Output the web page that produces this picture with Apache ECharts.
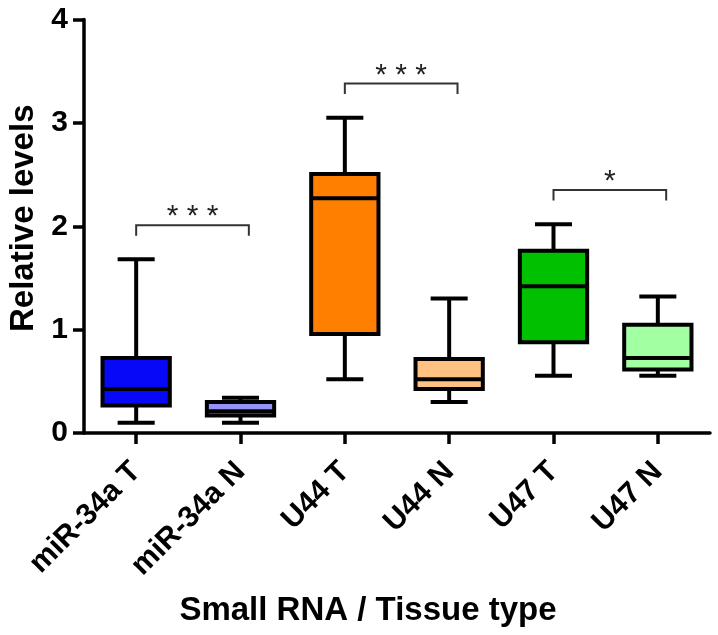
<!DOCTYPE html>
<html>
<head>
<meta charset="utf-8">
<script src="https://cdn.jsdelivr.net/npm/echarts@6/dist/echarts.min.js"></script>
<style>
html,body{margin:0;padding:0;background:#fff;}
#chart{width:718px;height:635px;}
</style>
</head>
<body>
<div id="chart"></div>
<script>
// ---- data ----
const categories = ['miR-34a T', 'miR-34a N', 'U44 T', 'U44 N', 'U47 T', 'U47 N'];
const whiskerLow  = [0.10, 0.10, 0.52, 0.30, 0.555, 0.555];
const quartile1   = [0.265, 0.17, 0.957, 0.425, 0.877, 0.615];
const medianVals  = [0.425, 0.21, 2.27, 0.52, 1.42, 0.725];
const quartile3   = [0.725, 0.30, 2.505, 0.716, 1.763, 1.047];
const whiskerHigh = [1.68, 0.34, 3.05, 1.30, 2.02, 1.32];
const yTicks = [0, 1, 2, 3, 4];
// significance brackets: left category, right category, bracket level, label
const bracketLeft  = [0, 2, 4];
const bracketRight = [1, 3, 5];
const bracketLevel = [2.01, 3.38, 2.35];
const bracketLabel = ['* * *', '* * *', '*'];

// ---- styles ----
const boxColors = ['#0808F8', '#9494F8', '#FF8000', '#FFC283', '#00C000', '#A2FFA2'];
const FONT = '"Liberation Sans", Arial, Helvetica, sans-serif';

const chart = echarts.init(document.getElementById('chart'), null, {renderer: 'canvas'});

const boxData = categories.map((c, i) => [i, whiskerLow[i], quartile1[i], medianVals[i], quartile3[i], whiskerHigh[i]]);
const bracketData = bracketLeft.map((l, i) => [l, bracketRight[i], bracketLevel[i], i]);

function renderBox(params, api) {
  const idx = api.value(0);
  const band = api.size([1, 0])[0];
  const cx = api.coord([idx, 0])[0];
  const yLo = api.coord([idx, api.value(1)])[1];
  const yQ1 = api.coord([idx, api.value(2)])[1];
  const yMed = api.coord([idx, api.value(3)])[1];
  const yQ3 = api.coord([idx, api.value(4)])[1];
  const yHi = api.coord([idx, api.value(5)])[1];
  const bw = band * 0.645;
  const cw = band * 0.355;
  const lineStyle = {stroke: '#000', lineWidth: 4, fill: null};
  return {
    type: 'group',
    children: [
      {type: 'line', shape: {x1: cx, y1: yHi, x2: cx, y2: yQ3}, style: lineStyle},
      {type: 'line', shape: {x1: cx, y1: yLo, x2: cx, y2: yQ1}, style: lineStyle},
      {type: 'line', shape: {x1: cx - cw / 2, y1: yHi, x2: cx + cw / 2, y2: yHi}, style: lineStyle},
      {type: 'line', shape: {x1: cx - cw / 2, y1: yLo, x2: cx + cw / 2, y2: yLo}, style: lineStyle},
      {type: 'rect', shape: {x: cx - bw / 2, y: yQ3, width: bw, height: yQ1 - yQ3},
        style: {fill: boxColors[params.dataIndex], stroke: '#000', lineWidth: 4}},
      {type: 'line', shape: {x1: cx - bw / 2, y1: yMed, x2: cx + bw / 2, y2: yMed}, style: lineStyle}
    ]
  };
}

function renderBracket(params, api) {
  const band = api.size([1, 0])[0];
  const level = api.value(2);
  const pL = api.coord([api.value(0), level]);
  const pR = api.coord([api.value(1), level]);
  const xL = pL[0];
  const xR = pR[0] + band * 0.08;
  const y = pL[1];
  const leg = 10.5;
  const i = api.value(3);
  return {
    type: 'group',
    children: [
      {type: 'polyline', shape: {points: [[xL, y + leg], [xL, y], [xR, y], [xR, y + leg]]},
        style: {stroke: '#333', lineWidth: 2, fill: null}},
      {type: 'text', x: (xL + xR) / 2, y: y + 7,
        style: {text: bracketLabel[i], textAlign: 'center', textVerticalAlign: 'bottom',
          font: 'normal 30px ' + FONT, fill: '#222'}}
    ]
  };
}

const option = {
  animation: false,
  backgroundColor: '#fff',
  grid: {left: 84, right: 8, top: 19.5, bottom: 202, outerBoundsMode: 'none', containLabel: false},
  xAxis: {
    type: 'category',
    data: categories,
    boundaryGap: true,
    axisLine: {show: true, lineStyle: {color: '#000', width: 3.5}},
    axisTick: {show: true, alignWithLabel: true, length: 11, lineStyle: {color: '#000', width: 3.5}},
    axisLabel: {interval: 0, rotate: 45, margin: 34, color: '#000', fontSize: 30, fontWeight: 'bold', fontFamily: FONT},
    splitLine: {show: false},
    name: 'Small RNA / Tissue type',
    nameLocation: 'middle',
    nameGap: 161,
    nameTextStyle: {color: '#000', fontSize: 33, fontWeight: 'bold', fontFamily: FONT, padding: [0, 58, 0, 0]}
  },
  yAxis: {
    type: 'value',
    min: yTicks[0],
    max: yTicks[yTicks.length - 1],
    interval: 1,
    axisLine: {show: true, lineStyle: {color: '#000', width: 3.5}},
    axisTick: {show: true, length: 11, lineStyle: {color: '#000', width: 3.5}},
    axisLabel: {margin: 16, color: '#000', fontSize: 30, fontWeight: 'bold', fontFamily: FONT},
    splitLine: {show: false},
    name: 'Relative levels',
    nameLocation: 'middle',
    nameGap: 44,
    nameRotate: 90,
    nameTextStyle: {color: '#000', fontSize: 33, fontWeight: 'bold', fontFamily: FONT, padding: [0, 0, 0, 16]}
  },
  series: [
    {
      type: 'custom',
      name: 'boxes',
      data: boxData,
      encode: {x: 0, y: [1, 2, 3, 4, 5]},
      renderItem: renderBox,
      clip: false
    },
    {
      type: 'custom',
      name: 'brackets',
      data: bracketData,
      encode: {x: 0, y: 2},
      renderItem: renderBracket,
      clip: false
    }
  ]
};
chart.setOption(option);
</script>
</body>
</html>
